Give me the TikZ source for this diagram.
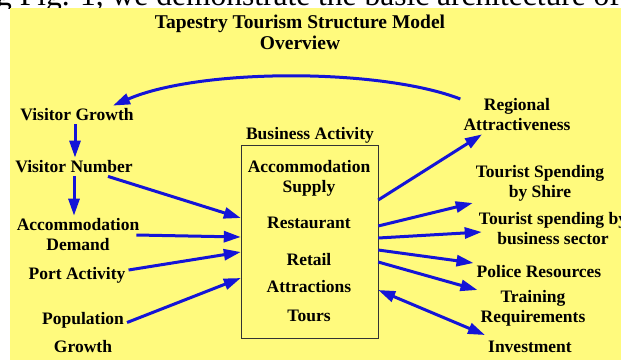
\documentclass[tikz,border=0pt]{standalone}
\usepackage{fontspec}
\setmainfont{Liberation Serif}
\usetikzlibrary{positioning}
\usetikzlibrary{arrows.meta}
\definecolor{bgyellow}{RGB}{255,250,125}
\definecolor{flowblue}{RGB}{20,20,215}

\begin{document}
\begin{tikzpicture}[x=1pt, y=-1pt,
        factor/.style={align=center, inner sep=3pt, font=\bfseries\fontsize{17.5}{20}\selectfont},
        flow/.style={-{Triangle[length=17pt,width=11pt]}, line width=3pt, draw=flowblue},
        flowboth/.style={{Triangle[length=17pt,width=11pt]}-{Triangle[length=17pt,width=11pt]}, line width=3pt, draw=flowblue}]
        \useasboundingbox (0,0) rectangle (621,360);
        \fill[white] (0,0) rectangle (621,360);
        \begin{scope}
            \clip (0,0) rectangle (621,8);
            \node[anchor=base west, inner sep=0pt, font=\fontsize{31.5}{34}\selectfont] (caption) at (-4,5) {g Fig. 1, we demonstrate the basic architecture of};
        \end{scope}
        \fill[bgyellow] (10,8) rectangle (621,360);

        \node[align=center, font=\bfseries\fontsize{19.5}{21}\selectfont] (title) at (300,32.5) {Tapestry Tourism Structure Model\\Overview};

        % left side
        \node[factor] (vgrowth) at (77,115) {Visitor Growth};
        \node[factor] (vnum) at (74,167) {Visitor Number};
        \node[factor] (accdem) at (78,235) {Accommodation\\Demand};
        \node[factor] (port) at (77,275) {Port Activity};
        \node[factor] (popg) at (83,332.5) {Population\\[8pt]Growth};

        % business box
        \node[draw=black!80, thin, minimum width=137pt, minimum height=193pt] (box) at (309.5,241.5) {};
        \node[factor] (bizact) at (310,135) {Business Activity};
        \node[factor] (accsup) at (309,178) {Accommodation\\Supply};
        \node[factor] (rest) at (309,223) {Restaurant};
        \node[factor] (retail) at (309,260) {Retail};
        \node[factor] (attr) at (309,287) {Attractions};
        \node[factor] (tours) at (309,316) {Tours};

        % right side
        \node[factor] (reg) at (517,115) {Regional\\Attractiveness};
        \node[factor] (shire) at (540,183) {Tourist Spending\\by Shire};
        \node[factor] (sector) at (553,229) {Tourist spending by\\business sector};
        \node[factor] (police) at (539,272) {Police Resources};
        \node[factor] (training) at (533,308) {Training\\Requirements};
        \node[factor] (invest) at (530,347) {Investment};

        \draw[flow] ([yshift=16pt]reg.west) .. controls (380,68) and (200,68) .. ([xshift=36pt]vgrowth.north);

        \draw[flow] ([xshift=-2pt]vgrowth.south) -- ([xshift=1pt]vnum.north);
        \draw[flow] (vnum.south) -- ([xshift=-4pt]accdem.north);

        \draw[flow] ([xshift=34pt]vnum.south) -- ([yshift=23.5pt]box.west);
        \draw[flow] ([xshift=-6pt]accdem.east) -- ([yshift=4.5pt]box.west);
        \draw[flow] ([yshift=5pt]port.east) -- ([yshift=-10.5pt]box.west);
        \draw[flow] ([yshift=10pt]popg.east) -- ([yshift=-36.5pt]box.west);

        \draw[flow] ([yshift=41.5pt]box.east) -- ([xshift=-35pt]reg.south);
        \draw[flow] ([yshift=15.5pt]box.east) -- ([yshift=-20pt]shire.west);
        \draw[flow] ([yshift=3.5pt]box.east) -- ([xshift=6pt,yshift=-3pt]sector.west);
        \draw[flow] ([yshift=-8.5pt]box.east) -- ([yshift=9pt]police.west);
        \draw[flow] ([yshift=-20.5pt]box.east) -- ([yshift=18pt]training.west);
        \draw[flowboth] ([yshift=-48.5pt]box.east) -- ([yshift=12pt]invest.west);
    \end{tikzpicture}
\end{document}
